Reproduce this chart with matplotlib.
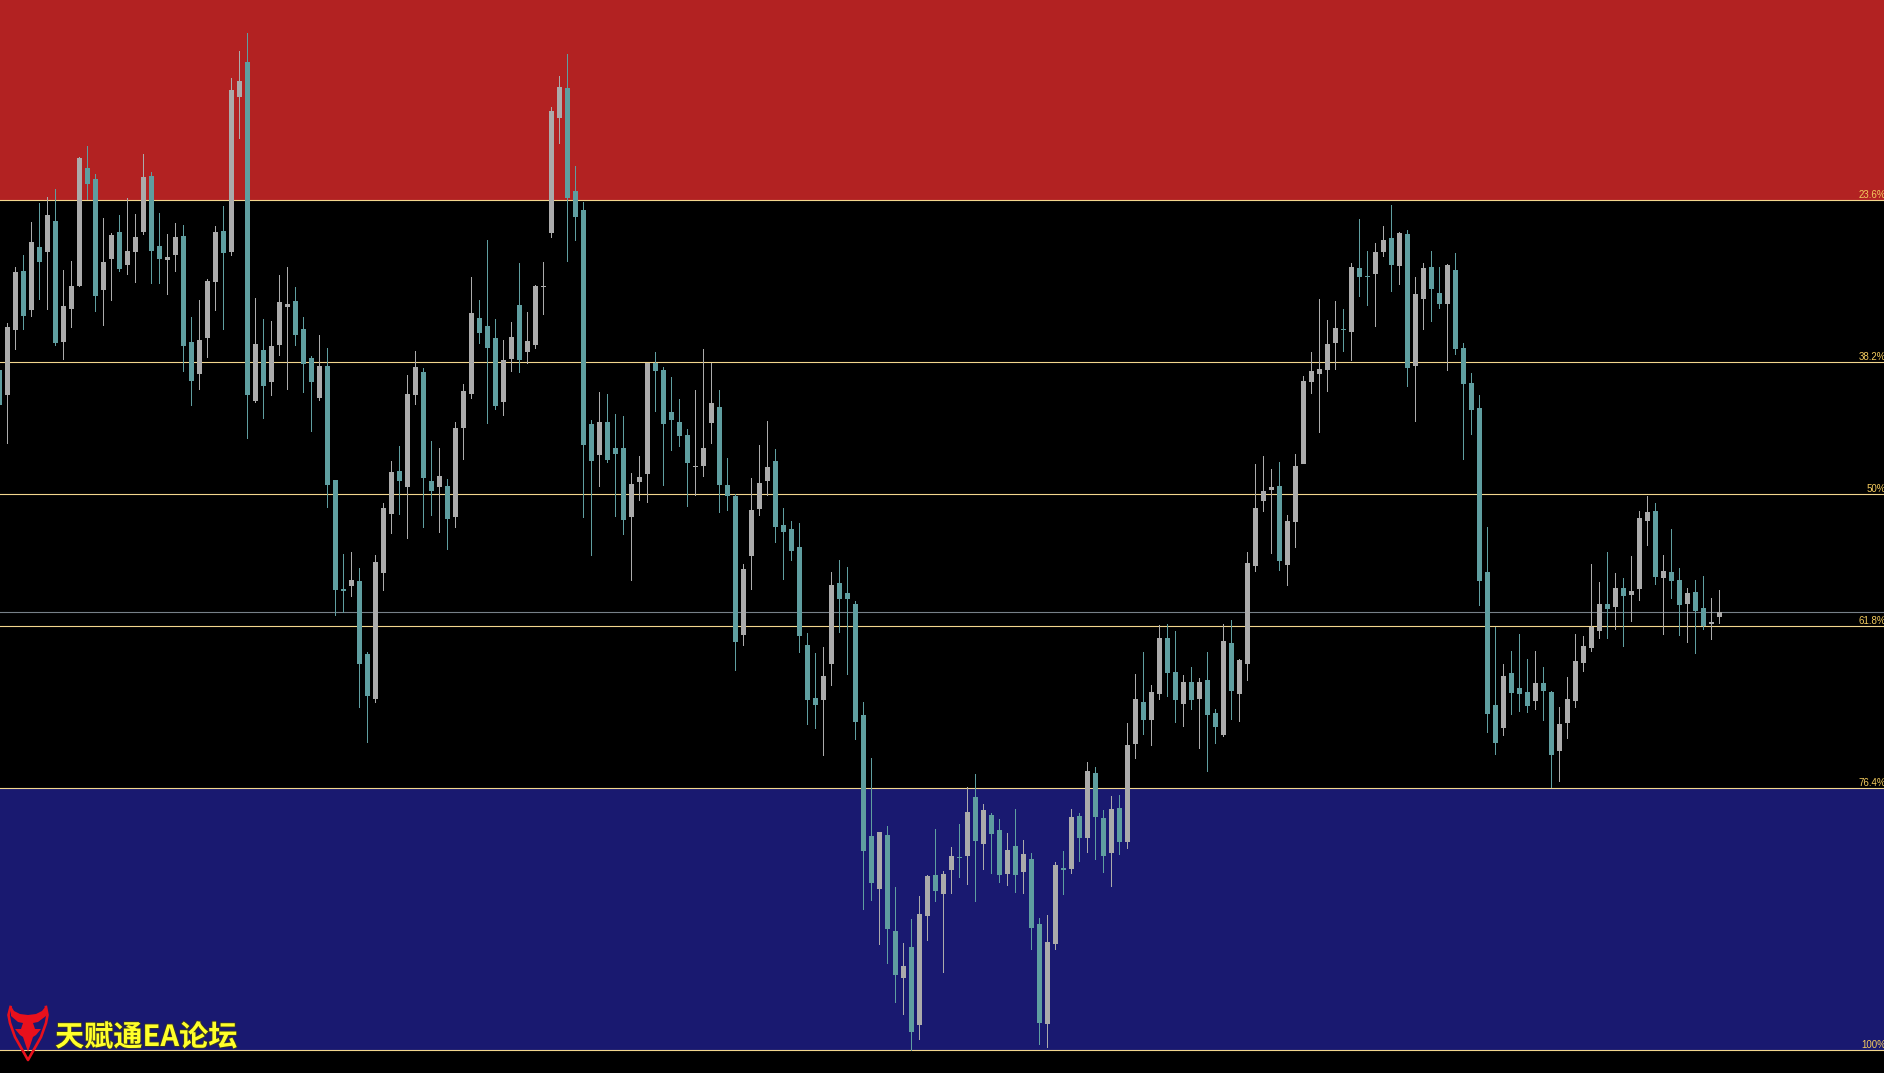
import matplotlib
matplotlib.use('Agg')
import matplotlib.pyplot as plt
import matplotlib.patheffects as pe
from matplotlib.patches import Polygon
import numpy as np

# Candles, on a vertical scale that grows downwards
highs = [370, 323, 267, 255, 222, 203, 197, 189, 270, 261,
         157, 146, 174, 218, 233, 215, 198, 214, 154, 172,
         213, 234, 223, 225, 317, 300, 279, 226, 206, 78,
         51, 33, 298, 319, 321, 275, 267, 287, 317, 356,
         335, 348, 480, 554, 552, 568, 652, 555, 503, 461,
         446, 375, 351, 368, 441, 448, 479, 422, 384, 277,
         300, 240, 319, 340, 322, 263, 312, 285, 262, 107,
         76, 54, 166, 202, 420, 392, 394, 414, 416, 473,
         456, 363, 352, 367, 377, 399, 429, 390, 349, 363,
         390, 458, 494, 564, 478, 445, 421, 449, 508, 521,
         523, 633, 653, 647, 572, 560, 567, 601, 702, 758,
         832, 826, 887, 943, 919, 896, 875, 829, 871, 847,
         824, 787, 774, 804, 813, 819, 833, 809, 840, 853,
         918, 915, 862, 851, 809, 813, 762, 767, 810, 796,
         795, 723, 674, 652, 685, 625, 624, 631, 675, 667,
         678, 652, 709, 624, 620, 659, 552, 464, 456, 469,
         462, 515, 454, 376, 352, 299, 320, 301, 309, 263,
         219, 251, 243, 226, 205, 232, 230, 277, 263, 251,
         267, 264, 253, 343, 373, 395, 527, 627, 664, 651,
         634, 659, 651, 667, 691, 707, 677, 634, 636, 564,
         582, 552, 573, 578, 556, 511, 496, 503, 555, 529,
         568, 588, 580, 576, 598, 590]
body_tops = [370, 327, 272, 271, 242, 247, 215, 221, 306, 286,
             158, 168, 179, 262, 235, 232, 251, 237, 177, 176,
             246, 257, 237, 236, 342, 340, 281, 232, 231, 90,
             81, 62, 344, 350, 346, 302, 304, 301, 329, 358,
             366, 366, 480, 589, 580, 581, 654, 562, 508, 472,
             471, 394, 367, 372, 481, 476, 486, 428, 391, 313,
             318, 326, 338, 360, 337, 305, 341, 286, 286, 111,
             87, 88, 191, 210, 424, 422, 422, 448, 448, 484,
             477, 363, 363, 370, 412, 422, 435, 466, 448, 403,
             407, 485, 496, 569, 510, 483, 467, 461, 525, 529,
             547, 645, 698, 676, 585, 583, 593, 604, 715, 836,
             832, 835, 931, 966, 947, 914, 876, 875, 874, 856,
             857, 812, 797, 810, 815, 830, 850, 846, 854, 859,
             924, 942, 865, 868, 817, 816, 771, 773, 818, 809,
             808, 745, 699, 702, 692, 638, 638, 672, 682, 682,
             682, 680, 713, 641, 643, 660, 563, 508, 491, 487,
             486, 521, 466, 381, 371, 369, 344, 328, 329, 267,
             268, 276, 252, 240, 238, 233, 234, 294, 268, 267,
             293, 265, 270, 348, 383, 408, 572, 705, 676, 673,
             688, 692, 683, 683, 692, 724, 699, 661, 646, 627,
             604, 604, 588, 588, 591, 518, 512, 511, 571, 572,
             580, 593, 592, 608, 622, 612]
body_bottoms = [405, 395, 330, 316, 310, 262, 252, 343, 342, 309,
                286, 184, 296, 290, 259, 269, 265, 252, 232, 251,
                259, 260, 255, 346, 381, 374, 338, 282, 253, 252,
                97, 395, 401, 386, 382, 345, 307, 335, 364, 382,
                398, 485, 590, 591, 586, 664, 696, 699, 573, 514,
                481, 487, 395, 478, 491, 487, 519, 517, 428, 394,
                333, 348, 406, 402, 359, 360, 352, 345, 287, 233,
                118, 198, 217, 445, 461, 455, 460, 454, 520, 517,
                482, 474, 371, 424, 420, 436, 463, 467, 466, 423,
                485, 496, 642, 635, 556, 509, 481, 527, 532, 551,
                636, 700, 705, 700, 664, 599, 599, 722, 851, 883,
                889, 929, 975, 978, 1032, 1025, 916, 891, 894, 870,
                858, 856, 841, 844, 834, 875, 874, 875, 872, 928,
                1023, 1024, 944, 870, 869, 838, 838, 817, 856, 853,
                842, 842, 744, 720, 720, 694, 673, 700, 704, 700,
                699, 715, 727, 735, 691, 694, 664, 566, 501, 490,
                561, 565, 522, 464, 382, 374, 370, 343, 330, 332,
                277, 277, 274, 252, 265, 266, 368, 366, 299, 289,
                304, 304, 349, 384, 410, 581, 714, 743, 728, 693,
                694, 706, 701, 691, 755, 751, 723, 701, 663, 648,
                631, 609, 607, 596, 595, 589, 521, 577, 578, 581,
                605, 604, 611, 626, 624, 617]
lows = [405, 444, 350, 330, 317, 300, 310, 346, 360, 328,
        287, 200, 312, 326, 301, 272, 275, 283, 235, 284,
        284, 295, 272, 372, 406, 390, 358, 311, 330, 256,
        139, 439, 403, 419, 396, 356, 390, 346, 393, 432,
        401, 508, 616, 613, 597, 708, 743, 703, 591, 534,
        515, 539, 405, 528, 516, 533, 550, 528, 460, 399,
        344, 424, 410, 416, 372, 373, 364, 349, 315, 238,
        144, 262, 241, 518, 556, 487, 463, 517, 535, 581,
        501, 503, 412, 486, 451, 447, 507, 496, 477, 444,
        513, 511, 671, 646, 590, 516, 496, 543, 580, 561,
        653, 725, 729, 756, 686, 633, 675, 740, 910, 901,
        945, 964, 1003, 1015, 1051, 1040, 941, 902, 973, 894,
        878, 885, 902, 870, 874, 883, 886, 893, 894, 950,
        1045, 1048, 950, 895, 874, 862, 853, 860, 873, 887,
        855, 849, 759, 735, 746, 700, 697, 723, 727, 710,
        749, 772, 744, 737, 720, 722, 681, 572, 512, 554,
        571, 586, 548, 464, 394, 433, 392, 370, 352, 361,
        297, 306, 327, 257, 292, 285, 387, 422, 330, 322,
        309, 371, 355, 460, 435, 606, 733, 755, 736, 715,
        712, 713, 710, 721, 788, 782, 739, 708, 672, 652,
        639, 639, 630, 647, 622, 601, 546, 585, 635, 599,
        636, 643, 654, 630, 640, 624]
sides = list('TGGTGTGTGG' 'GTTGGTGGGT' 'TGGTTGGGTG' 'GTGTGGGTTT'
             'GTTTGTTGGG' 'TGGTTGTGGG' 'TTTGGTGGGG' 'GTTTTGTTTG'
             'GGTTTTTGGG' 'TTTGGGGTTT' 'TTTGGTTTTT' 'GTTGTGGTGG'
             'TGTGTTGTGT' 'TGGTGTGTTG' 'TGGTGGTTGT' 'GTTGTGGGGG'
             'TGGGGGGGTG' 'TTGGTGTGGT' 'TGTTTTTTGT' 'TTGTTGGGGG'
             'GTGTGGGTGT' 'TGTTGG')

# Fibonacci levels
level_names = ['23.6%', '38.2%', '50%', '61.8%', '76.4%', '100%']
level_values = [200.5, 362.5, 494.5, 626.5, 788.5, 1050.5]
last_price = 612.5

colors = {'G': '#ABABAB', 'T': '#5F9EA0'}
line_color = '#F2D68E'

fig = plt.figure(figsize=(18.84, 10.73), dpi=100, facecolor='black')
ax = fig.add_axes([0, 0, 1, 1])
ax.set_facecolor('black')
ax.set_xlim(0.0625, 235.5625)
ax.set_ylim(1073, 0)
ax.axis('off')

# Zones
ax.axhspan(0, level_values[0], facecolor='#B22222', edgecolor='none', zorder=1)
ax.axhspan(level_values[4], level_values[5], facecolor='#191970', edgecolor='none', zorder=1)

for val in level_values:
    ax.axhline(val, color=line_color, lw=0.8, zorder=2, snap=False)
ax.axhline(last_price, color='#778088', lw=0.8, zorder=2, snap=False)

# Candles
x = np.arange(len(highs))
cols = [colors[s] for s in sides]
ax.vlines(x, highs, lows, colors=cols, lw=0.72, zorder=3, snap=False)
bars = ax.bar(x, np.array(body_bottoms) - np.array(body_tops), bottom=body_tops, width=0.625,
              color=cols, linewidth=0, zorder=3)
for b in bars:
    b.set_snap(False)

# Level labels
for name, val in zip(level_names, level_values):
    ax.text(1.001, val - 2.5, name, transform=ax.get_yaxis_transform(), ha='right', va='baseline',
            color='#F4CB5E', fontsize=7, family='Liberation Sans', zorder=5, clip_on=False)

# Watermark in pixel coordinates
wm = fig.add_axes([0, 0, 1, 1])
wm.set_xlim(0, 1884)
wm.set_ylim(1073, 0)
wm.axis('off')
wm.patch.set_alpha(0)
red = '#E8101C'
wm.plot([10.5, 8.5, 10, 15, 28, 41, 46, 47.5, 46], [1007, 1015, 1023, 1037, 1060, 1037, 1023, 1015, 1007],
        color=red, lw=1.9, solid_joinstyle='round', zorder=6)
wm.add_patch(Polygon([(11, 1006), (14, 1011), (20, 1014), (28, 1015), (36, 1014), (42, 1011), (46, 1006),
                      (46, 1016), (38, 1022), (28, 1024), (18, 1022), (11, 1016)],
                     closed=True, facecolor=red, edgecolor='none', zorder=6))
wm.add_patch(Polygon([(15, 1029), (21, 1029), (23, 1023), (33, 1023), (35, 1029), (41, 1029),
                      (36, 1035), (33, 1037), (28, 1052), (23, 1037), (20, 1035)],
                     closed=True, facecolor=red, edgecolor='none', zorder=6))
t = wm.text(55, 1046, '天赋通EA论坛', color='#FFFF2A', fontsize=21, fontweight='bold',
            family=['Noto Sans CJK SC', 'DejaVu Sans'], ha='left', va='baseline', zorder=7)
t.set_path_effects([pe.withStroke(linewidth=1.2, foreground='#3A3A20')])

fig.savefig('out.png', dpi=100, facecolor='black')
